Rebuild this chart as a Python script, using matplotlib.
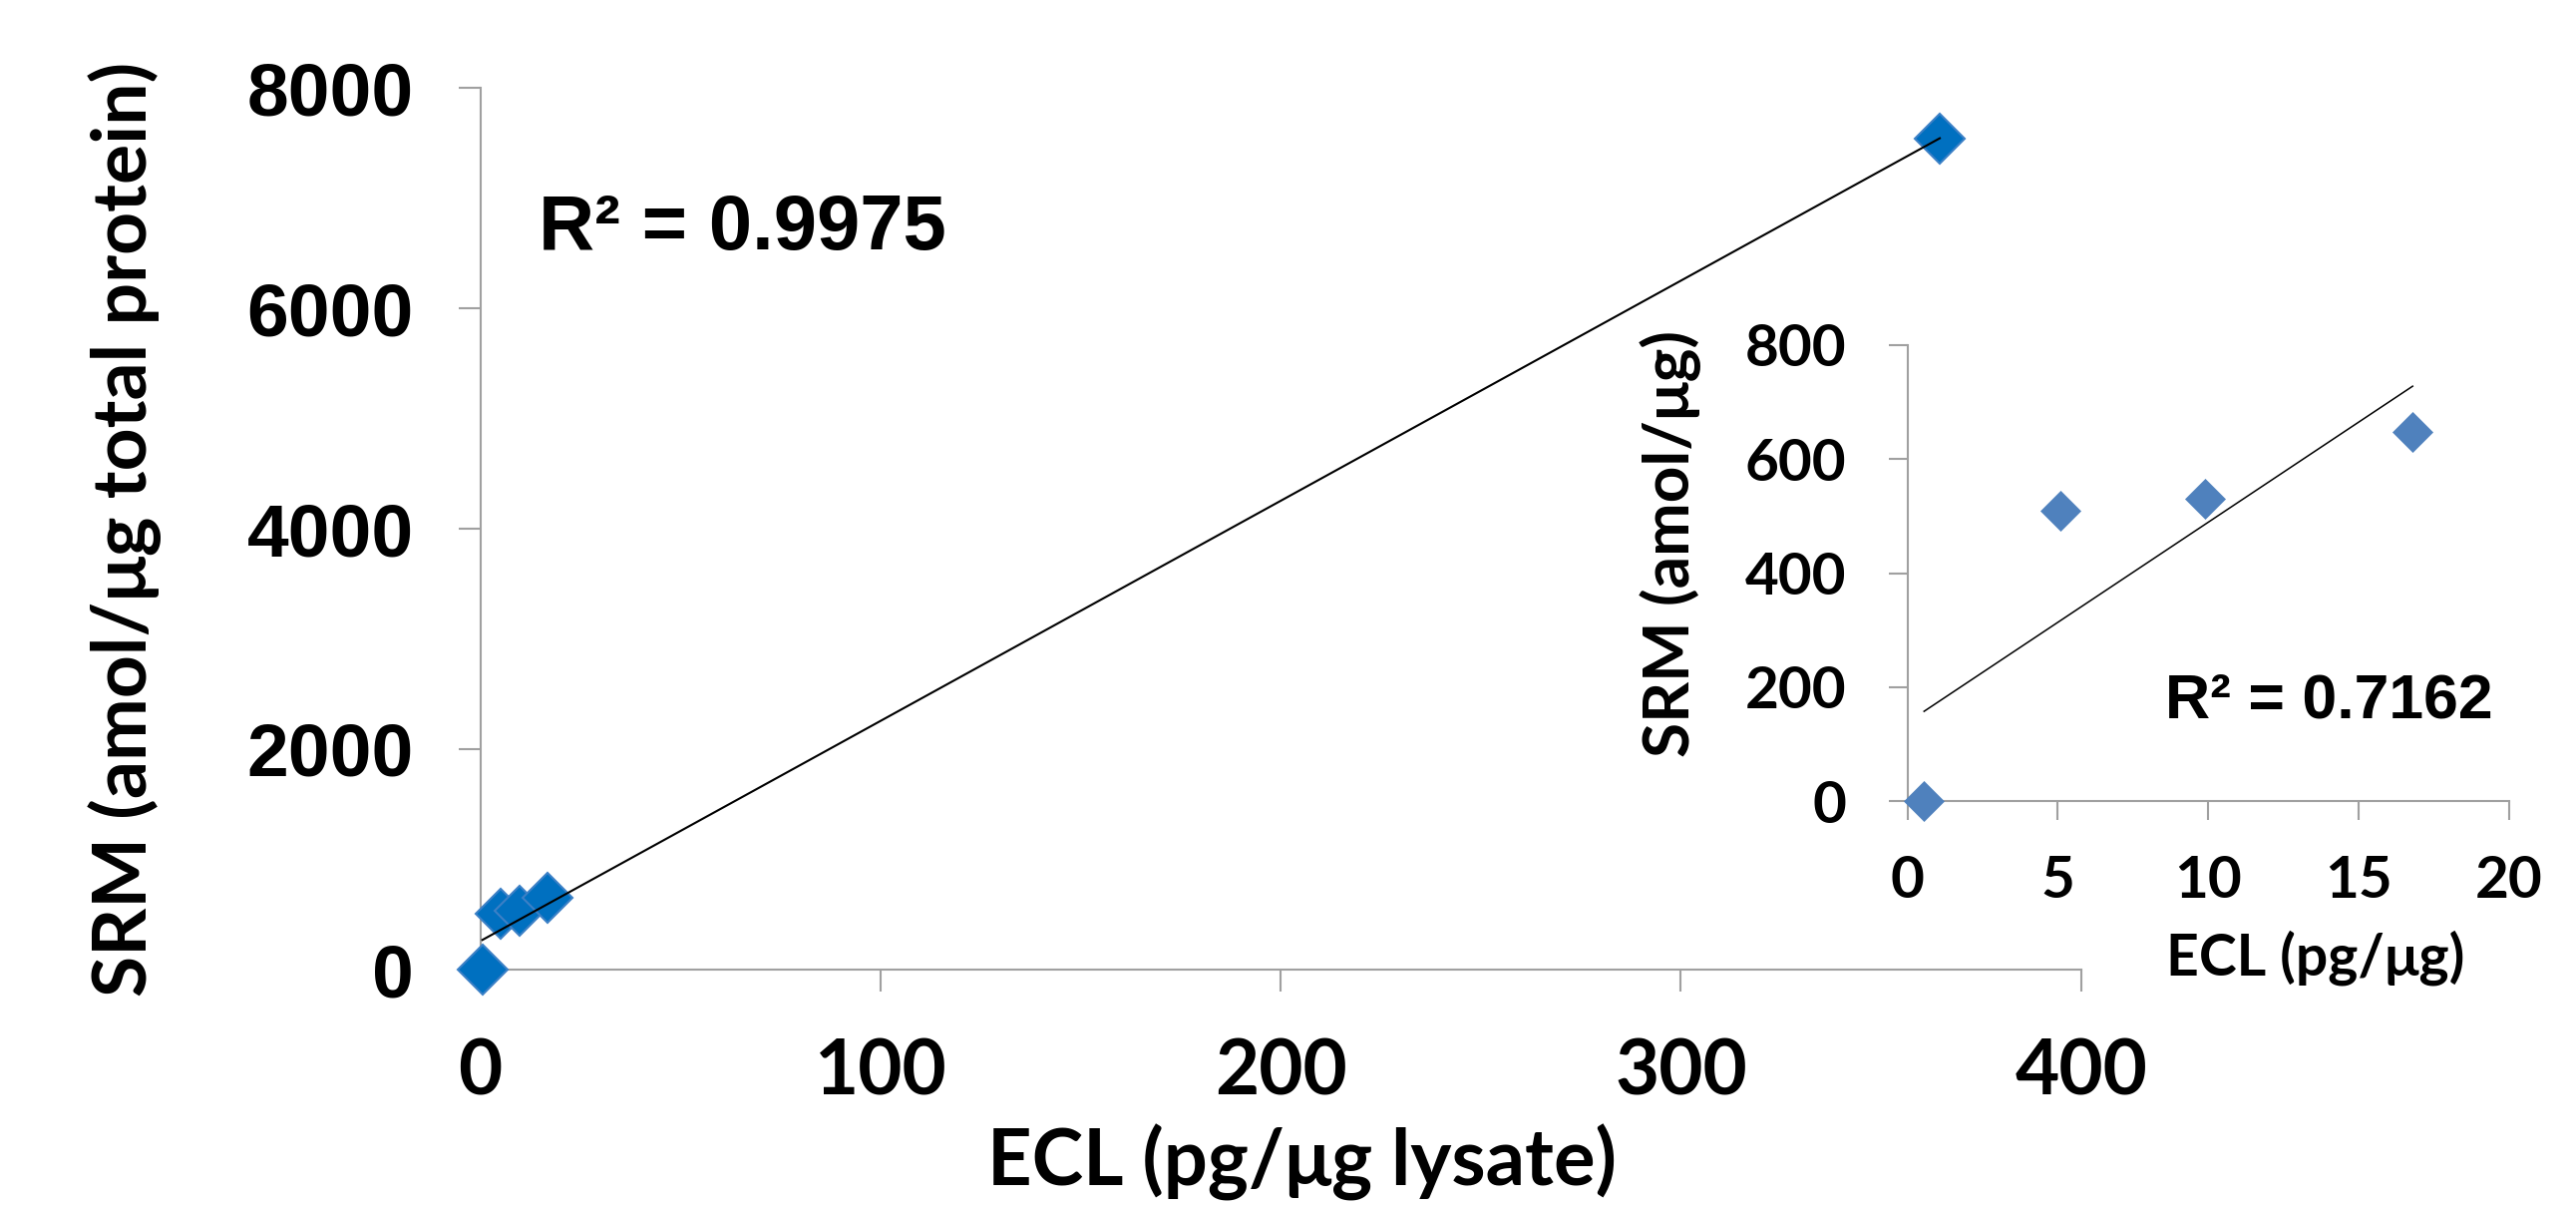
import numpy as np
import matplotlib
matplotlib.use("Agg")
import matplotlib.pyplot as plt

# data
ecl = [0.5, 5.1, 9.9, 16.8, 364.7]          # pg/ug lysate
srm = [0.0, 510.0, 530.0, 648.0, 7536.0]     # amol/ug total protein
ecl_low = [0.55, 5.1, 9.9, 16.8]
srm_low = [0.0, 510.0, 530.0, 648.0]

main_xticks = [0, 100, 200, 300, 400]
main_yticks = [0, 2000, 4000, 6000, 8000]
ins_xticks = [0, 5, 10, 15, 20]
ins_yticks = [0, 200, 400, 600, 800]

r2_main = "R\u00b2 = 0.9975"
r2_ins = "R\u00b2 = 0.7162"

W, H = 2583, 1213
CAL = ["Lato", "DejaVu Sans"]      # stand-in for Calibri
ARIAL = ["Liberation Sans", "DejaVu Sans"]
GREY = "#a0a0a0"


def style_axes(ax, lw):
    for s in ("top", "right"):
        ax.spines[s].set_visible(False)
    for s in ("left", "bottom"):
        ax.spines[s].set_color(GREY)
        ax.spines[s].set_linewidth(lw)
    ax.tick_params(direction="out", color=GREY, width=lw)


fig = plt.figure(figsize=(W / 100, H / 100), dpi=100)

# main plot
ax = fig.add_axes([481.7 / W, (H - 972) / H, 1605 / W, 884 / H])
style_axes(ax, 1.5)
ax.set_xlim(0, 400)
ax.set_ylim(0, 8000)
ax.tick_params(length=16)
ax.tick_params(axis="y", pad=32)
ax.tick_params(axis="x", pad=33)
ax.set_xticks(main_xticks, labels=[str(v) for v in main_xticks],
              fontsize=55, fontweight="bold", family=CAL)
ax.set_yticks(main_yticks, labels=[str(v) for v in main_yticks],
              fontsize=54, fontweight="bold", family=ARIAL)

ax.plot(ecl, srm, linestyle="none", marker="D", ms=25, mfc="#0070c0",
        mec="#3c80c6", mew=1.5, clip_on=False, zorder=3)
k, b = np.polyfit(ecl, srm, 1)
xs = np.array([min(ecl), max(ecl)])
ax.plot(xs, k * xs + b, color="black", lw=1.5, zorder=4, clip_on=False)

ax.set_xlabel("ECL (pg/\u03bcg lysate)", fontsize=56, fontweight="bold",
              family=CAL, va="baseline")
ax.xaxis.set_label_coords((1306 - 481.7) / 1605, (972 - 1189) / 884)
ax.set_ylabel("SRM (amol/\u03bcg total protein)", fontsize=54,
              fontweight="bold", family=CAL, va="center")
ax.yaxis.set_label_coords((125 - 481.7) / 1605, 0.5)

ax.text((540 - 481.7) / 1605, (972 - 250) / 884, r2_main,
        transform=ax.transAxes, fontsize=56, fontweight="bold",
        family=ARIAL, va="baseline", ha="left")

# inset
ins = fig.add_axes([1912.7 / W, (H - 803.3) / H, 603 / W, 457.6 / H])
ins.patch.set_alpha(0)
style_axes(ins, 1.5)
ins.set_xlim(0, 20)
ins.set_ylim(0, 800)
ins.tick_params(length=14)
ins.tick_params(axis="y", pad=30)
ins.tick_params(axis="x", pad=25)
ins.set_xticks(ins_xticks, labels=[str(v) for v in ins_xticks],
               fontsize=42, fontweight="bold", family=CAL)
ins.set_yticks(ins_yticks, labels=[str(v) for v in ins_yticks],
               fontsize=42, fontweight="bold", family=CAL)

ins.plot(ecl_low, srm_low, linestyle="none", marker="D", ms=20,
         mfc="#4f81bd", mec="#4f81bd", mew=0.5, clip_on=False, zorder=3)
k2, b2 = np.polyfit(ecl_low, srm_low, 1)
xs2 = np.array([min(ecl_low), max(ecl_low)])
ins.plot(xs2, k2 * xs2 + b2, color="black", lw=1.1, zorder=4)

ins.set_xlabel("ECL (pg/\u03bcg)", fontsize=41, fontweight="bold",
               family=CAL, va="baseline")
ins.xaxis.set_label_coords((2322 - 1912.7) / 603, (803.3 - 978) / 457.6)
ins.set_ylabel("SRM (amol/\u03bcg)", fontsize=46, fontweight="bold",
               family=CAL, va="center")
ins.yaxis.set_label_coords((1675 - 1912.7) / 603, (803.3 - 545) / 457.6)

ins.text((2171 - 1912.7) / 603, (803.3 - 719) / 457.6, r2_ins,
         transform=ins.transAxes, fontsize=45, fontweight="bold",
         family=ARIAL, va="baseline", ha="left")

fig.savefig("out.png", dpi=100, facecolor="white")
